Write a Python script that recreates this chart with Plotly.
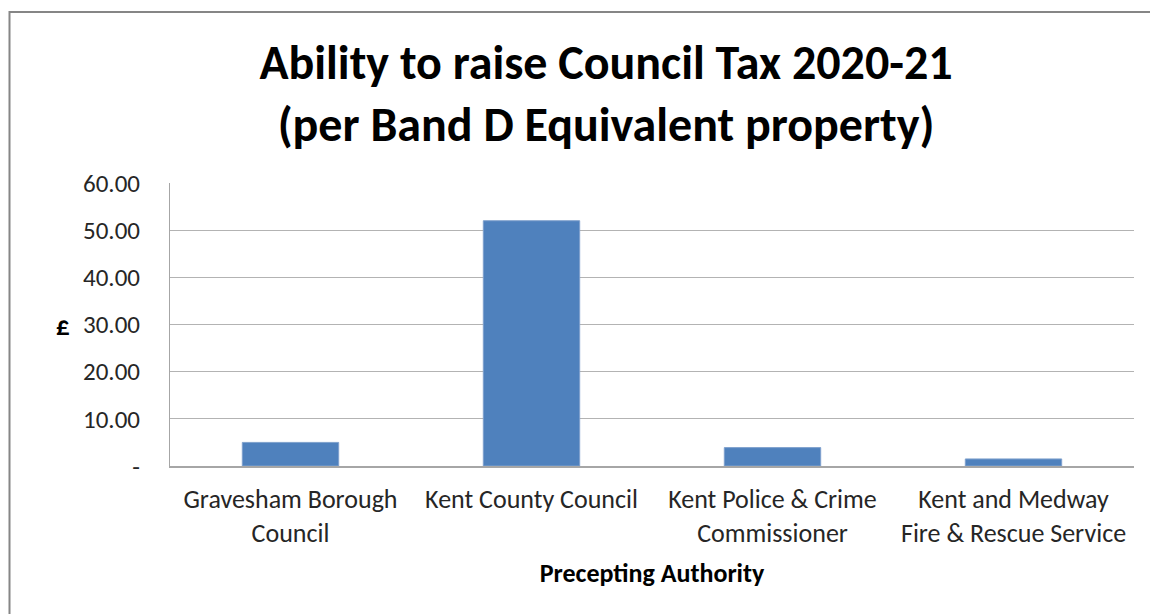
import plotly.graph_objects as go

categories = ["Gravesham Borough<br>Council", "Kent County Council",
              "Kent Police & Crime<br>Commissioner", "Kent and Medway<br>Fire & Rescue Service"]
values = [5.0, 52.0, 3.9, 1.5]
tick_vals = [0, 10, 20, 30, 40, 50, 60]
tick_text = ["-", "10.00", "20.00", "30.00", "40.00", "50.00", "60.00"]

FONT = "Calibri, Carlito, Lato, sans-serif"
W, H = 1150, 614
L, R, T, B = 170, 16, 183, 148
pw, ph = W - L - R, H - T - B

fig = go.Figure(go.Bar(
    x=categories, y=values,
    marker=dict(color="#4F81BD", line=dict(color="#7FA1CD", width=1)),
))

fig.update_layout(
    width=W, height=H,
    margin=dict(l=L, r=R, t=T, b=B),
    paper_bgcolor="white", plot_bgcolor="white",
    bargap=0.6,
    showlegend=False,
    font=dict(family=FONT, color="#262626"),
    title=dict(text="<b>Ability to raise Council Tax 2020-21<br>(per Band D Equivalent property)</b>",
               x=606 / W, xanchor="center",
               y=1 - 79 / H, yanchor="middle",
               font=dict(family=FONT, size=48, color="#000000")),
    xaxis=dict(
        showgrid=False, showline=True, linecolor="#A6A6A6", linewidth=2,
        ticks="", tickfont=dict(size=26, color="#262626"), ticklabelstandoff=9,
        title=dict(text="<b>Precepting Authority</b>", font=dict(size=26, color="#000000"), standoff=16),
    ),
    yaxis=dict(
        range=[0, 60], tickvals=tick_vals, ticktext=tick_text,
        showgrid=True, gridcolor="#B3B3B3", gridwidth=1,
        showline=True, linecolor="#A6A6A6", linewidth=1,
        ticks="", ticklabelstandoff=24, tickfont=dict(size=25, color="#262626"),
        zeroline=False,
    ),
    annotations=[dict(text="<b>£</b>", xref="paper", yref="paper",
                      x=(54 - L) / pw, y=(H - B - 325) / ph, showarrow=False,
                      font=dict(size=27, color="#000000"))],
    shapes=[dict(type="rect", xref="paper", yref="paper",
                 x0=(9.5 - L) / pw, x1=(W + 20 - L) / pw,
                 y0=-(B + 20) / ph, y1=(H - B - 12) / ph,
                 line=dict(color="#868686", width=2), fillcolor="rgba(0,0,0,0)", layer="below")],
)

fig.write_html("out.html")
